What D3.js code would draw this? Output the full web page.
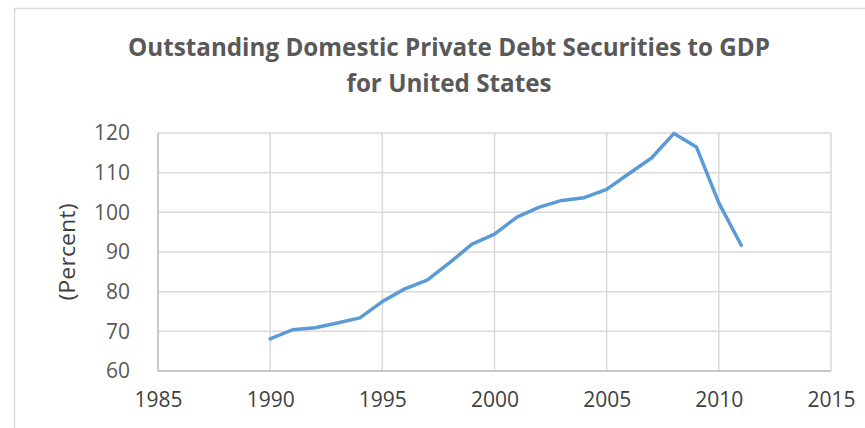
<!DOCTYPE html>
<html><head><meta charset="utf-8">
<script src="https://cdn.jsdelivr.net/npm/d3@7"></script>
<style>html,body{margin:0;padding:0;background:#fff;}svg{display:block;}</style>
</head><body>
<script>
const years = [1990,1991,1992,1993,1994,1995,1996,1997,1998,1999,2000,2001,2002,2003,2004,2005,2006,2007,2008,2009,2010,2011];
const values = [68.1,70.4,70.9,72.1,73.4,77.5,80.7,82.9,87.3,92.0,94.5,98.8,101.3,103.0,103.7,105.8,109.8,113.7,119.9,116.5,102.4,91.7];
const xTicks = [1985,1990,1995,2000,2005,2010,2015];
const yTicks = [60,70,80,90,100,110,120];
const titleLines = ["Outstanding Domestic Private Debt Securities to GDP","for United States"];
const yLabel = "(Percent)";

const W = 865, H = 428;
const svg = d3.select("body").append("svg").attr("width", W).attr("height", H);
const font = "'Open Sans', sans-serif";

// outer chart border
svg.append("rect").attr("x", 14.5).attr("y", 8.5).attr("width", W).attr("height", H)
  .attr("fill", "none").attr("stroke", "#d9d9d9").attr("stroke-width", 1.5);

const L = 158, R = 831, T = 133, B = 371;
const x = d3.scaleLinear().domain([1985, 2015]).range([L, R]);
const y = d3.scaleLinear().domain([60, 120]).range([B, T]);

// gridlines
const g = svg.append("g");
g.selectAll("line.h").data(yTicks).join("line")
  .attr("x1", L).attr("x2", R).attr("y1", d => y(d)).attr("y2", d => y(d))
  .attr("stroke", "#d9d9d9").attr("stroke-width", 1.5);
g.selectAll("line.v").data(xTicks).join("line")
  .attr("y1", T).attr("y2", B).attr("x1", d => x(d)).attr("x2", d => x(d))
  .attr("stroke", "#d9d9d9").attr("stroke-width", 1.5);
// axis lines
g.append("line").attr("x1", L).attr("x2", L).attr("y1", T).attr("y2", B).attr("stroke", "#bfbfbf").attr("stroke-width", 1.5);
g.append("line").attr("x1", L).attr("x2", R).attr("y1", B).attr("y2", B).attr("stroke", "#bfbfbf").attr("stroke-width", 1.5);

// axes labels via d3 axes
const yAxis = svg.append("g").attr("transform", `translate(${L},0)`)
  .call(d3.axisLeft(y).tickValues(yTicks).tickSize(0).tickPadding(28).tickFormat(d3.format("d")));
const xAxis = svg.append("g").attr("transform", `translate(0,${B})`)
  .call(d3.axisBottom(x).tickValues(xTicks).tickSize(0).tickPadding(21).tickFormat(d3.format("d")));
[yAxis, xAxis].forEach(a => {
  a.select(".domain").remove();
  a.selectAll("text").attr("fill", "#595959").style("font-family", font).style("font-size", "21px");
});
xAxis.selectAll("text").attr("fill", "#404040");

// line
const line = d3.line().x((d, i) => x(years[i])).y(d => y(d));
svg.append("path").datum(values).attr("d", line)
  .attr("fill", "none").attr("stroke", "#5b9bd5").attr("stroke-width", 3.5)
  .attr("stroke-linejoin", "round").attr("stroke-linecap", "round");

// y label
svg.append("text").attr("transform", "translate(75,252) rotate(-90)")
  .attr("text-anchor", "middle").attr("fill", "#404040")
  .style("font-family", font).style("font-size", "21px")
  .attr("textLength", 97).attr("lengthAdjust", "spacingAndGlyphs").text(yLabel);

// title
const tw = [642, 205];
const ty = [56, 92];
titleLines.forEach((t, i) => {
  svg.append("text").attr("x", 449).attr("y", ty[i]).attr("text-anchor", "middle")
    .attr("fill", "#595959").style("font-family", font).style("font-weight", "bold").style("font-size", "25px")
    .attr("textLength", tw[i]).attr("lengthAdjust", "spacingAndGlyphs").text(t);
});
</script>
</body></html>
